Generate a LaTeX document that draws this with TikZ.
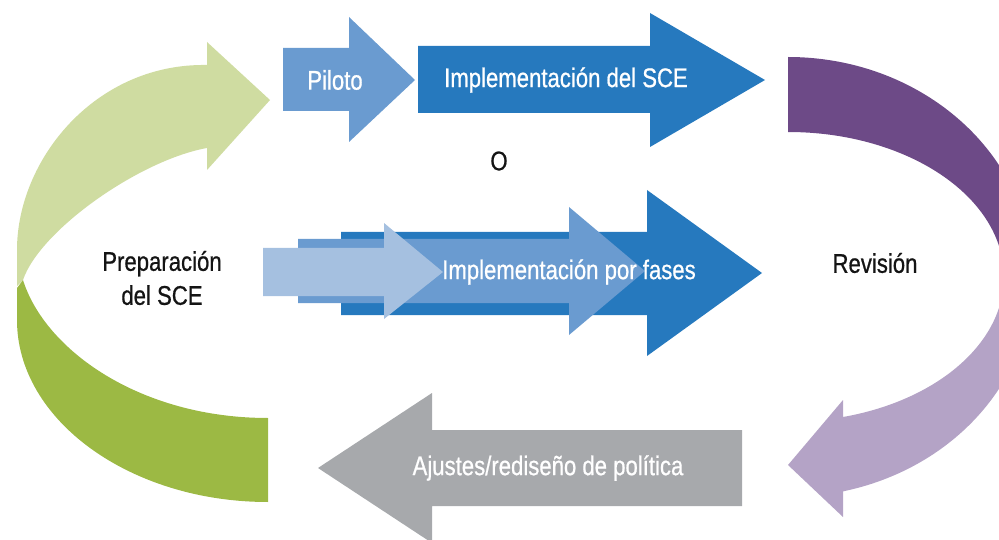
\documentclass[tikz,border=0pt]{standalone}
\usepackage{fontspec}
\setmainfont[FakeStretch=0.82,FakeBold=0.7]{Liberation Sans}
\usetikzlibrary{calc}
\definecolor{lgreen}{HTML}{CFDCA1}
\definecolor{dgreen}{HTML}{9CB944}
\definecolor{dpurple}{HTML}{6D4A87}
\definecolor{lpurple}{HTML}{B4A3C6}
\definecolor{bluedark}{HTML}{2679BE}
\definecolor{bluemid}{HTML}{6A9BD0}
\definecolor{bluelight}{HTML}{A5C0E0}
\definecolor{greyarrow}{HTML}{A7A9AC}
\definecolor{labelblack}{HTML}{141414}
\begin{document}
\begin{tikzpicture}[x=1pt,y=-1pt,
  lbl/.style={font=\fontsize{27}{34}\selectfont, inner sep=0pt, align=center},
  whitelbl/.style={lbl, text=white},
  blacklbl/.style={lbl, text=labelblack}]
\useasboundingbox (0,0) rectangle (999,540);
\clip (0,0) rectangle (999,540);

% ---- left circular arrow (green) ----
\fill[lgreen] (207,65) .. controls (95,63) and (17,160) .. (17,250) -- (17,286) -- (23,280)
  .. controls (40,230) and (140,160) .. (207,148) -- (207,170) -- (270,100) -- (207,42) -- cycle;
\fill[dgreen] (23,280) -- (17,288) -- (17,320) .. controls (17,420) and (130,502) .. (268,502)
  -- (268,418) .. controls (140,418) and (45,350) .. (23,280) -- cycle;

% ---- right circular arrow (purple) ----
\fill[dpurple] (788,57) arc[start angle=-90, end angle=-3, x radius=245, y radius=220]
  -- ($(788,277)+(-3:216 and 145)$) arc[start angle=-3, end angle=-90, x radius=216, y radius=145] -- cycle;
\fill[lpurple] ($(788,277)+(3:245 and 220)$) arc[start angle=3, end angle=77, x radius=245, y radius=220]
  -- (843,517) -- (788,465) -- (843,400) -- (843,417)
  arc[start angle=75.25, end angle=3, x radius=216, y radius=145] -- cycle;

% ---- top arrows ----
\fill[bluemid] (283,48) -- (349,48) -- (349,17) -- (415,80) -- (349,142) -- (349,111) -- (283,111) -- cycle;
\fill[bluedark] (418,46) -- (650,46) -- (650,13) -- (765,80) -- (650,147) -- (650,113) -- (418,113) -- cycle;

% ---- phased implementation arrows ----
\fill[bluedark] (341,232) -- (647,232) -- (647,190) -- (762,273) -- (647,356) -- (647,315) -- (341,315) -- cycle;
\fill[bluemid] (298,239) -- (569,239) -- (569,207) -- (645,271) -- (569,335) -- (569,303) -- (298,303) -- cycle;
\fill[bluelight] (263,248) -- (384,248) -- (384,223) -- (443,272) -- (384,319) -- (384,296) -- (263,296) -- cycle;

% ---- bottom grey arrow ----
\fill[greyarrow] (742,430) -- (432,430) -- (432,393) -- (318,468) -- (432,543) -- (432,506) -- (742,506) -- cycle;

% ---- labels ----
\node[whitelbl] (piloto) at (335,80) {Piloto};
\node[whitelbl] (implsce) at (566,80) {Implementación del SCE};
\node[blacklbl] (o) at (499,161) {O};
\node[whitelbl] (fases) at (569,272) {Implementación por fases};
\node[blacklbl] (prep) at (162,278) {Preparación\\del SCE};
\node[blacklbl] (revision) at (875,263) {Revisión};
\node[whitelbl] (ajustes) at (548,468) {Ajustes/rediseño de política};
\end{tikzpicture}
\end{document}
